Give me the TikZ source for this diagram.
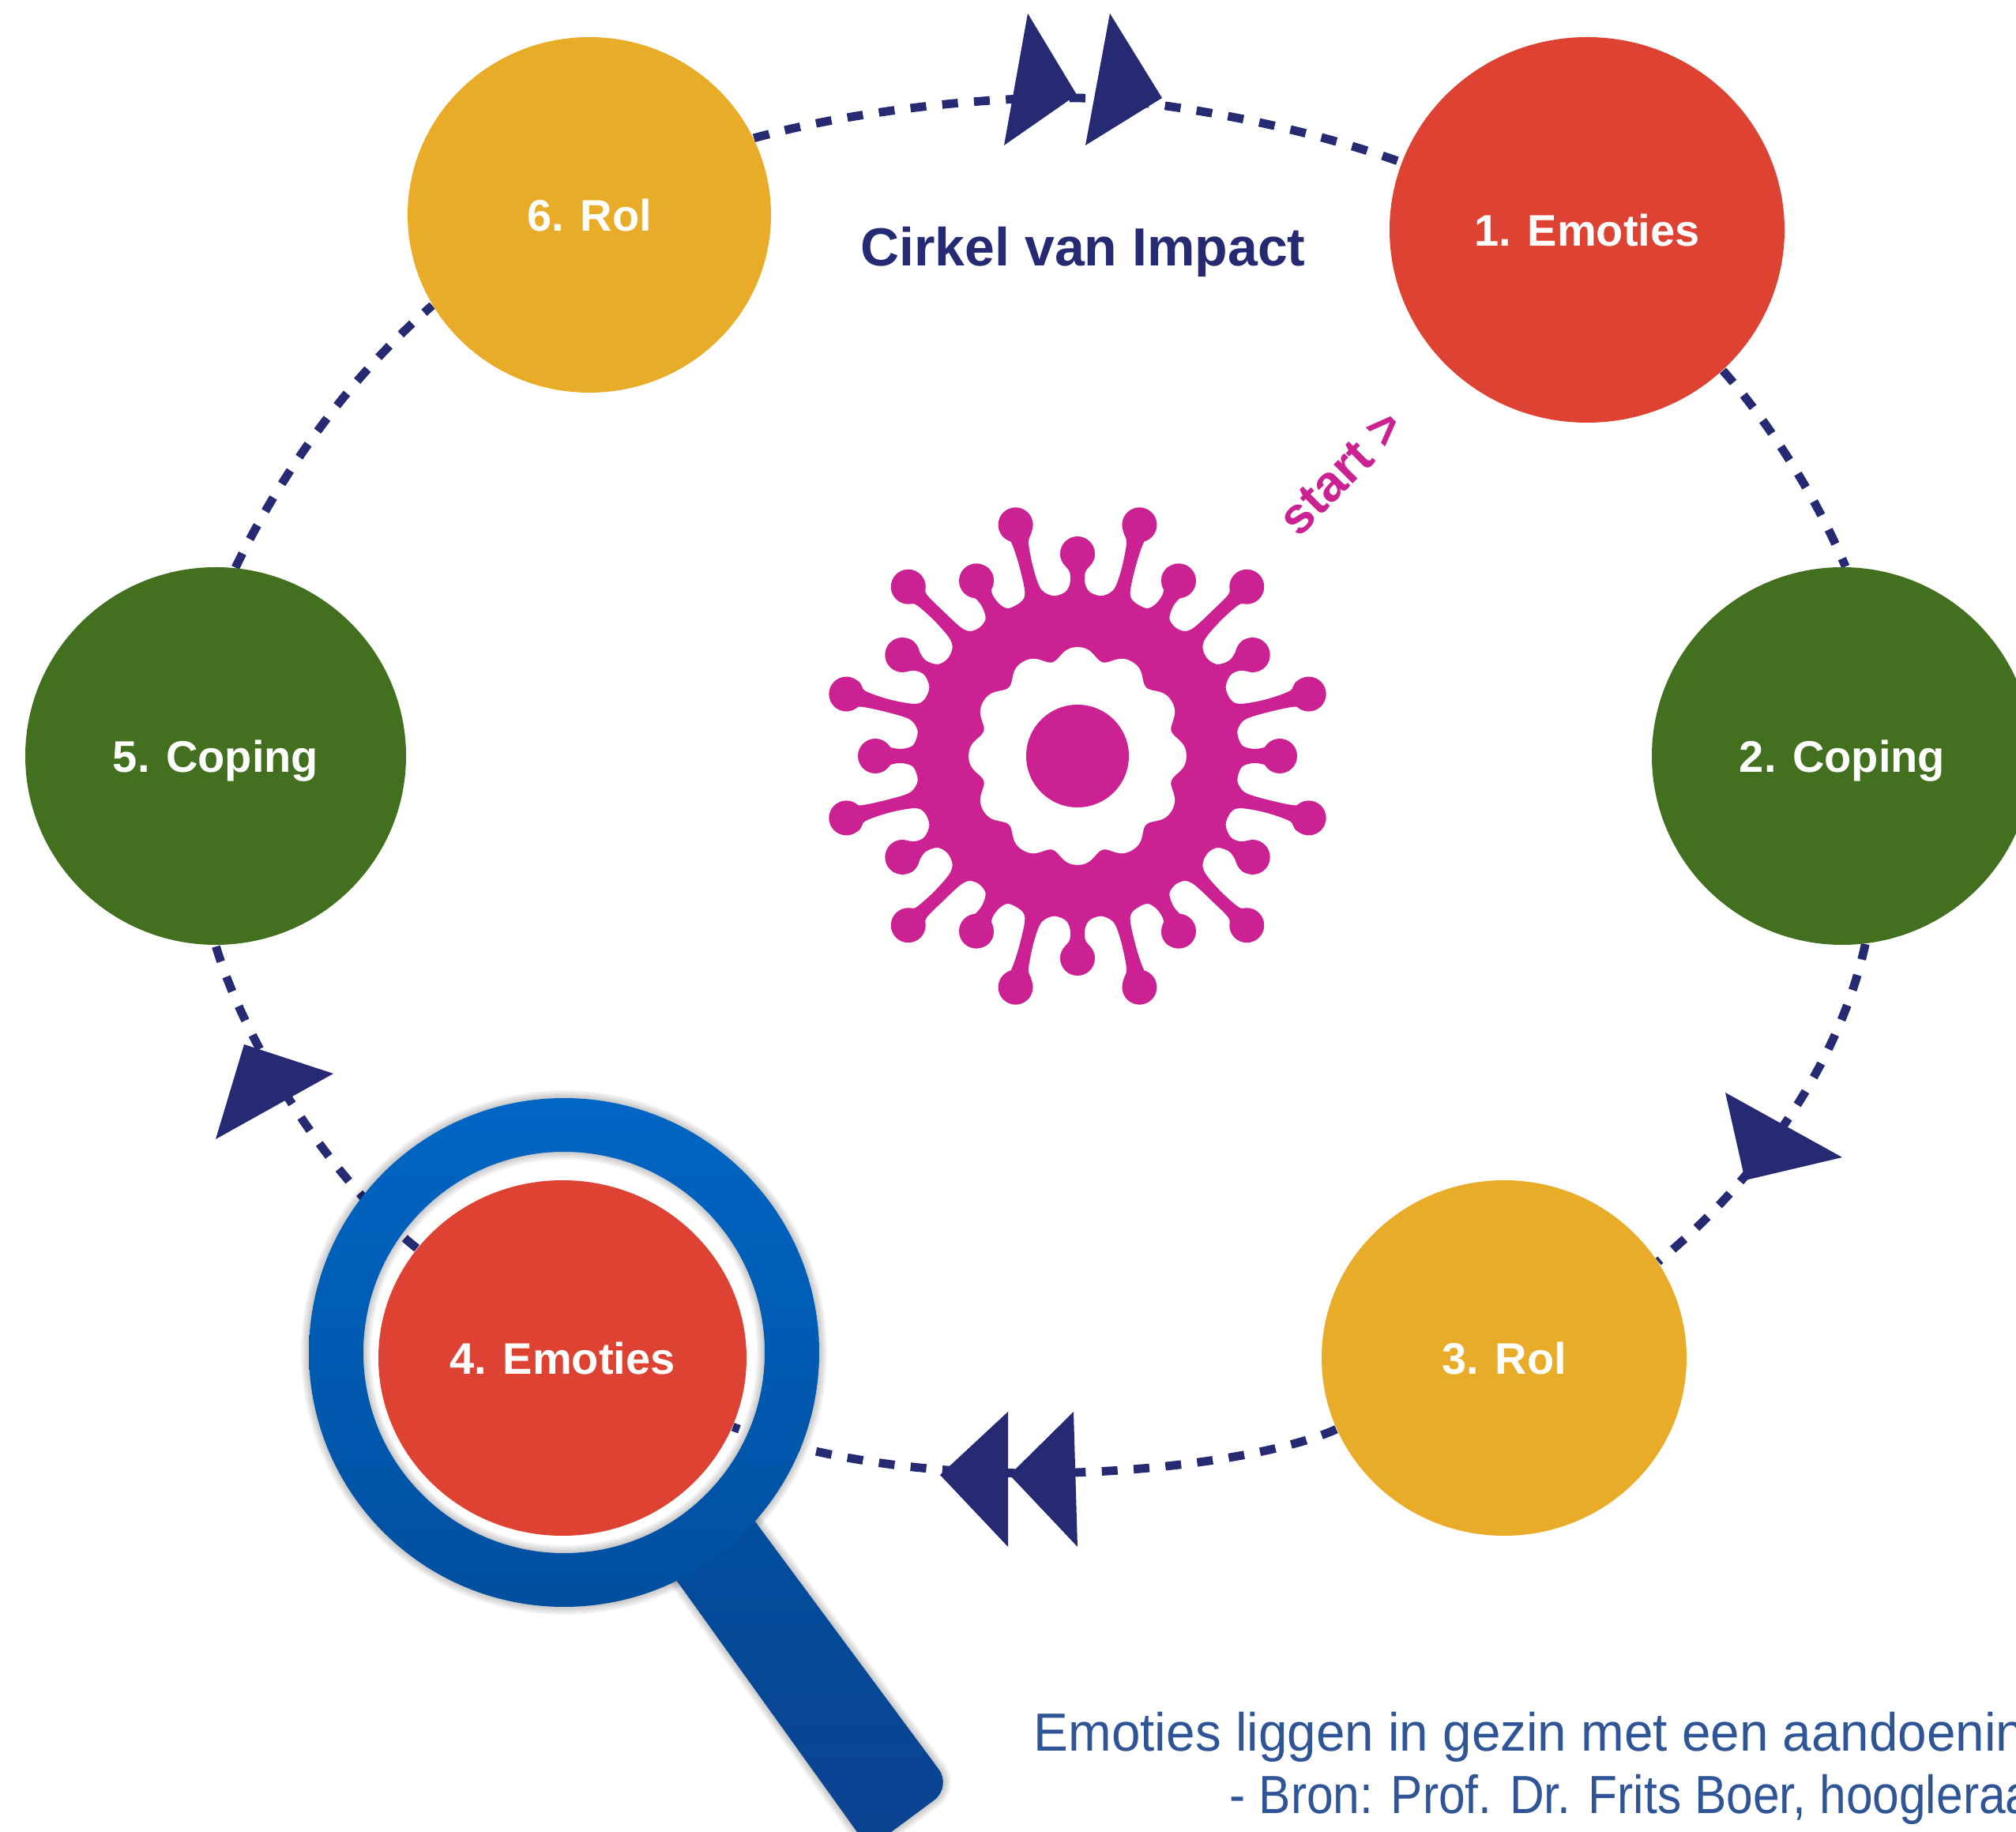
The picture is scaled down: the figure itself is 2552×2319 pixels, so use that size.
\documentclass[tikz,border=0pt]{standalone}
\usepackage{fontspec}
\setmainfont{Liberation Sans}
\usetikzlibrary{shapes.geometric}
\definecolor{cred}{HTML}{DD4232}
\definecolor{cgreen}{HTML}{43701E}
\definecolor{cyellow}{HTML}{E8AC28}
\definecolor{cnavy}{HTML}{252A72}
\definecolor{cmag}{HTML}{CB2193}
\definecolor{ctxt}{HTML}{2F5597}
\definecolor{lenstop}{HTML}{0066C4}
\definecolor{lensbot}{HTML}{004F9F}
\definecolor{handbot}{HTML}{0C4290}
\pgfdeclarelayer{conn}
\pgfdeclarelayer{lens}
\pgfsetlayers{conn,lens,main}
\tikzset{
  bub/.style={ellipse,inner sep=0pt,text=white,text depth=0pt,font=\fontsize{14}{16}\selectfont\bfseries},
  dashline/.style={cnavy,line width=2.7pt,dash pattern=on 5pt off 5.1pt},
  tip/.style={fill=cnavy},
  virus/.style={fill=cmag},
  shadowline/.style={black,opacity=.045,line join=round,rounded corners=7pt},
}
\begin{document}
\begin{tikzpicture}[x=.25pt,y=-.25pt]
\useasboundingbox (0,0) rectangle (2552,2319);
% bubbles
\node[bub,fill=cred,minimum width=125pt,minimum height=122pt] (n1) at (2009,291) {1. Emoties};
\node[bub,fill=cgreen,minimum width=120.5pt,minimum height=119.5pt] (n2) at (2332,957) {2. Coping};
\node[bub,fill=cyellow,minimum width=115.5pt,minimum height=112.5pt] (n3) at (1904,1719) {3. Rol};
\node[bub,fill=cred,minimum width=116.5pt,minimum height=112.5pt] (n4) at (712,1719) {4. Emoties};
\node[bub,fill=cgreen,minimum width=120.5pt,minimum height=119.5pt] (n5) at (273,957) {5. Coping};
\node[bub,fill=cyellow,minimum width=115pt,minimum height=112.5pt] (n6) at (746,272) {6. Rol};
\coordinate (peak) at (1364,124);
% connectors
\begin{pgfonlayer}{conn}
\draw[dashline] (n1.-46.7) .. controls (2235,530) and (2295,620) .. (n2.89);
\draw[dashline] (n2.-83) .. controls (2330,1340) and (2230,1490) .. (n3.32.5);
\draw[dashline] (n3.203.5) .. controls (1580,1860) and (1190,1905) .. (n4.-22);
\draw[dashline] (n4.143) .. controls (415,1490) and (310,1320) .. (n5.-90);
\draw[dashline] (n5.84) .. controls (360,590) and (450,470) .. (n6.210.6);
\draw[dashline] (n6.25) .. controls (1080,140) and (1250,122) .. (peak) .. controls (1440,125) and (1620,150) .. (n1.160.5);
\end{pgfonlayer}
% arrowheads
\fill[tip] (1301,17) -- (1363,120) -- (1271,184) -- cycle;
\fill[tip] (1405,17) -- (1471,124) -- (1374,184) -- cycle;
\fill[tip] (2184,1383) -- (2332,1465) -- (2209,1494) -- cycle;
\fill[tip] (1190,1867) -- (1276,1787) -- (1276,1958) -- cycle;
\fill[tip] (1278,1867) -- (1359,1787) -- (1364,1958) -- cycle;
\fill[tip] (273,1442) -- (309,1322) -- (422,1359) -- cycle;
% magnifier
\begin{pgfonlayer}{lens}
\foreach \w in {1,2,3,4,5}{
  \draw[shadowline,line width=\w pt] (828,1961) -- (927,1887) -- (1205,2262) -- (1100,2340) -- cycle;
  \draw[shadowline,line width=\w pt] (714,1712) ellipse[x radius=323,y radius=322];
  \draw[shadowline,line width=\w pt] (714,1712) circle[radius=254];
}
\shade[top color=lensbot,bottom color=handbot,rounded corners=7pt]
  (828,1961) -- (927,1887) -- (1205,2262) -- (1100,2340) -- cycle;
\shade[top color=lenstop,bottom color=lensbot,even odd rule]
  (714,1712) ellipse[x radius=323,y radius=322] (714,1712) circle[radius=254];
\end{pgfonlayer}
% virus
\begin{scope}[shift={(1364,957)}]
  \foreach \sx/\sy in {1/1,-1/1,1/-1,-1/-1}{
    \begin{scope}[xscale=\sx,yscale=\sy,x=.12118pt,y=-.11161pt,shift={(-750,-800)}]
      \fill[virus] plot[smooth,tension=.55] coordinates {(750,179) (778,190) (795,228) (783,258) (770,280) (770,312) (782,335) (810,346) (835,337) (850,318) (866,265) (878,195) (870,165) (871,135) (888,105) (912,96) (940,108) (955,143) (945,170) (925,190) (905,250) (888,330) (895,360) (930,381) (955,368) (973,340) (975,312) (970,290) (985,265) (1013,257) (1042,270) (1057,305) (1045,335) (1020,350) (1000,375) (990,410) (1005,435) (1030,446) (1055,435) (1100,390) (1145,340) (1150,305) (1165,282) (1192,272) (1222,285) (1235,320) (1225,350) (1190,367) (1170,372) (1125,415) (1085,465) (1077,495) (1090,525) (1115,540) (1145,530) (1160,510) (1168,490) (1180,473) (1205,466) (1235,480) (1250,512) (1238,545) (1205,560) (1175,558) (1150,570) (1137,605) (1150,640) (1175,652) (1240,640) (1305,615) (1320,590) (1352,577) (1385,590) (1397,623) (1385,657) (1352,672) (1320,660) (1250,675) (1190,695) (1170,720) (1168,740) (1180,770) (1210,780) (1240,775) (1250,768) (1277,752) (1305,765) (1320,800)} -- (750,800) -- cycle;
    \end{scope}
  }
  \draw[cmag,line width=2pt] (-270,0) -- (270,0) (0,-270) -- (0,270);
  \foreach \a in {15,45,...,345}{\fill[virus] (\a:303) circle[radius=22];}
  \foreach \a in {0,30,...,330}{\fill[virus] (\a:256) circle[radius=22];}
  \fill[white] plot[domain=0:360,samples=361] (\x:{131.5+7.5*cos(12*\x)-1.2*cos(24*\x)}) -- cycle;
  \fill[virus] (0,0) circle[radius=65];
\end{scope}
% texts
\node[text=cnavy,font=\fontsize{17}{20}\selectfont\bfseries,inner sep=0pt] (title) at (1371,319) {Cirkel van Impact};
\node[text=cmag,font=\fontsize{16}{18}\selectfont\bfseries,inner sep=0pt,rotate=45] (start) at (1698,598) {start >};
\node[text=ctxt,font=\fontsize{17}{20}\selectfont,inner sep=0pt,anchor=base west] (note1) at (1308,2217) {\scalebox{.965}[1]{Emoties liggen in gezin met een aandoening}};
\node[text=ctxt,font=\fontsize{17}{20}\selectfont,inner sep=0pt,anchor=base west] (note2) at (1556,2295) {\scalebox{.89}[1]{- Bron: Prof. Dr. Frits Boer, hoogleraar}};
\end{tikzpicture}
\end{document}
